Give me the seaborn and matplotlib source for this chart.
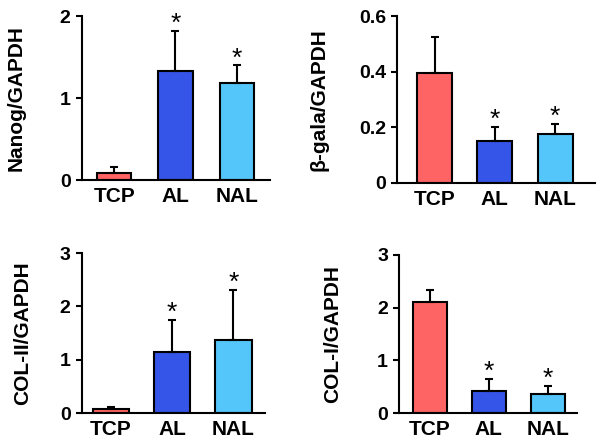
import numpy as np
import pandas as pd
import matplotlib
matplotlib.use("Agg")
import matplotlib.pyplot as plt
import seaborn as sns

groups = ["TCP", "AL", "NAL"]
colors = ["#FF6464", "#3554E8", "#55C6FA"]

nanog_mean = [0.085, 1.33, 1.19]
nanog_err = [0.075, 0.49, 0.21]
gala_mean = [0.395, 0.151, 0.176]
gala_err = [0.130, 0.050, 0.036]
col2_mean = [0.07, 1.14, 1.37]
col2_err = [0.05, 0.61, 0.94]
col1_mean = [2.10, 0.41, 0.37]
col1_err = [0.23, 0.24, 0.14]

# which bars get a star
stars = [False, True, True]

sns.set_style("ticks")
plt.rcParams["font.family"] = ["Liberation Sans", "DejaVu Sans"]
plt.rcParams["font.weight"] = "bold"
plt.rcParams["text.color"] = "black"
plt.rcParams["axes.labelcolor"] = "black"
plt.rcParams["xtick.color"] = "black"
plt.rcParams["ytick.color"] = "black"
plt.rcParams["axes.edgecolor"] = "black"

fig = plt.figure(figsize=(6.01, 4.48), dpi=100)

panels = [
    # rect, mean, err, ylabel, ymax, yticks, ticklabels, xlim, width, label x
    ([0.136, 0.598, 0.313, 0.366], nanog_mean, nanog_err, "Nanog/GAPDH", 2, [0, 1, 2], ["0", "1", "2"], (-0.53, 2.54), 0.56, -0.30),
    ([0.661, 0.592, 0.329, 0.372], gala_mean, gala_err, "β-gala/GAPDH", 0.6, [0, 0.2, 0.4, 0.6], ["0", "0.2", "0.4", "0.6"], (-0.62, 2.66), 0.58, -0.35),
    ([0.136, 0.078, 0.305, 0.357], col2_mean, col2_err, "COL-II/GAPDH", 3, [0, 1, 2, 3], ["0", "1", "2", "3"], (-0.48, 2.52), 0.60, -0.27),
    ([0.664, 0.078, 0.296, 0.353], col1_mean, col1_err, "COL-I/GAPDH", 3, [0, 1, 2, 3], ["0", "1", "2", "3"], (-0.52, 2.49), 0.58, -0.32),
]

for rect, mean, err, ylabel, ymax, yticks, ytl, xlim, width, lx in panels:
    ax = fig.add_axes(rect)
    df = pd.DataFrame({"group": groups, "value": mean})
    sns.barplot(data=df, x="group", y="value", hue="group", palette=colors, saturation=1,
                width=width, edgecolor="black", linewidth=1.5, legend=False, ax=ax)
    xs = np.arange(len(groups))
    ax.errorbar(xs, mean, yerr=[np.zeros(len(err)), err], fmt="none",
                ecolor="black", elinewidth=1.5, capsize=2.8, capthick=1.5)
    for x, m, e, s in zip(xs, mean, err, stars):
        if s:
            ax.annotate("*", xy=(x, m + e), xytext=(0, 5), textcoords="offset points",
                        ha="center", va="center", fontsize=19, fontweight="normal")
    ax.set_xlim(*xlim)
    ax.set_ylim(0, ymax)
    ax.set_yticks(yticks)
    ax.set_yticklabels(ytl)
    ax.set_xlabel("")
    ax.set_ylabel(ylabel, fontsize=15, fontweight="bold")
    ax.yaxis.set_label_coords(lx, 0.5)
    ax.tick_params(axis="x", length=0, labelsize=15, pad=5)
    ax.tick_params(axis="y", length=4, width=1.5, labelsize=14, pad=4)
    for lab in ax.get_xticklabels() + ax.get_yticklabels():
        lab.set_fontweight("bold")
    for sp in ["top", "right"]:
        ax.spines[sp].set_visible(False)
    for sp in ["left", "bottom"]:
        ax.spines[sp].set_linewidth(1.5)

fig.savefig("out.png", dpi=100)
